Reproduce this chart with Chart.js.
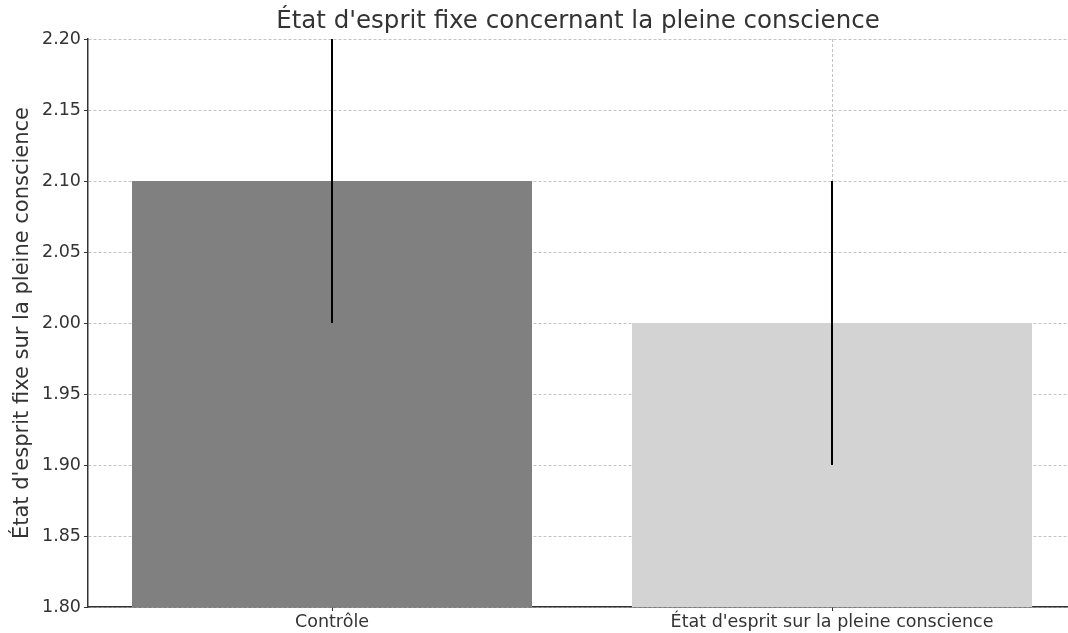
<!DOCTYPE html>
<html>
<head>
<meta charset="utf-8">
<script src="https://cdn.jsdelivr.net/npm/chart.js@4/dist/chart.umd.min.js"></script>
<style>
  html, body { margin: 0; padding: 0; background: #fff; }
  canvas { display: block; }
</style>
</head>
<body>
<canvas id="chart" width="1068" height="633"></canvas>
<script>
// data
const categories = ["Contrôle", "État d'esprit sur la pleine conscience"];
const means = [2.10, 2.00];
const errors = [0.10, 0.10];
const barColors = ["#808080", "#d3d3d3"];
const yTicks = [1.80, 1.85, 1.90, 1.95, 2.00, 2.05, 2.10, 2.15, 2.20];

const textColor = "#333333";
const font = "'DejaVu Sans', sans-serif";

// error bars, drawn last so the grid does not cover them
const errorBars = {
  id: "errorBars",
  afterDraw(chart) {
    const ctx = chart.ctx;
    const x = chart.scales.x;
    const y = chart.scales.y;
    ctx.save();
    ctx.strokeStyle = "#000";
    ctx.lineWidth = 2;
    means.forEach((m, i) => {
      const px = Math.round(x.getPixelForValue(i));
      ctx.beginPath();
      ctx.moveTo(px, y.getPixelForValue(m - errors[i]));
      ctx.lineTo(px, y.getPixelForValue(m + errors[i]));
      ctx.stroke();
    });
    ctx.restore();
  },
};

new Chart(document.getElementById("chart").getContext("2d"), {
  type: "bar",
  data: {
    datasets: [
      {
        data: means.map((v, i) => ({ x: i, y: v })),
        backgroundColor: barColors,
        borderWidth: 0,
        barPercentage: 0.8,
        categoryPercentage: 1,
      },
    ],
  },
  options: {
    responsive: false,
    animation: false,
    layout: { padding: 0 },
    plugins: {
      legend: { display: false },
      tooltip: { enabled: false },
      title: {
        display: true,
        fullSize: false,
        text: "État d'esprit fixe concernant la pleine conscience",
        color: textColor,
        font: { family: font, size: 24.5, weight: "normal" },
        padding: { top: 7, bottom: 2.6 },
      },
    },
    scales: {
      x: {
        type: "linear",
        min: -0.488,
        max: 1.472,
        offset: false,
        z: 1,
        afterBuildTicks: (s) => {
          s.ticks = categories.map((c, i) => ({ value: i }));
        },
        afterFit: (s) => {
          s.height = 26;
        },
        ticks: {
          callback: (v) => categories[v],
          color: textColor,
          font: { family: font, size: 17.5 },
          padding: 1,
          maxRotation: 0,
          autoSkip: false,
        },
        grid: {
          offset: false,
          color: "#c4c4c4",
          lineWidth: 1,
          tickColor: "#333",
          tickLength: 4,
        },
        border: { color: "#333", width: 1.5, dash: [3, 2] },
      },
      y: {
        min: 1.8,
        max: 2.2,
        z: 1,
        afterBuildTicks: (s) => {
          s.ticks = yTicks.map((v) => ({ value: v }));
        },
        afterFit: (s) => {
          s.width = 88;
        },
        ticks: {
          callback: (v) => v.toFixed(2),
          color: textColor,
          font: { family: font, size: 17.5 },
          padding: 3,
        },
        grid: {
          color: "#c4c4c4",
          lineWidth: 1,
          tickColor: "#333",
          tickLength: 4,
        },
        border: { color: "#333", width: 1.5, dash: [3, 2] },
        title: {
          display: true,
          text: "État d'esprit fixe sur la pleine conscience",
          color: textColor,
          font: { family: font, size: 21 },
          padding: { top: 10, bottom: 4 },
        },
      },
    },
  },
  plugins: [errorBars],
});
</script>
</body>
</html>
